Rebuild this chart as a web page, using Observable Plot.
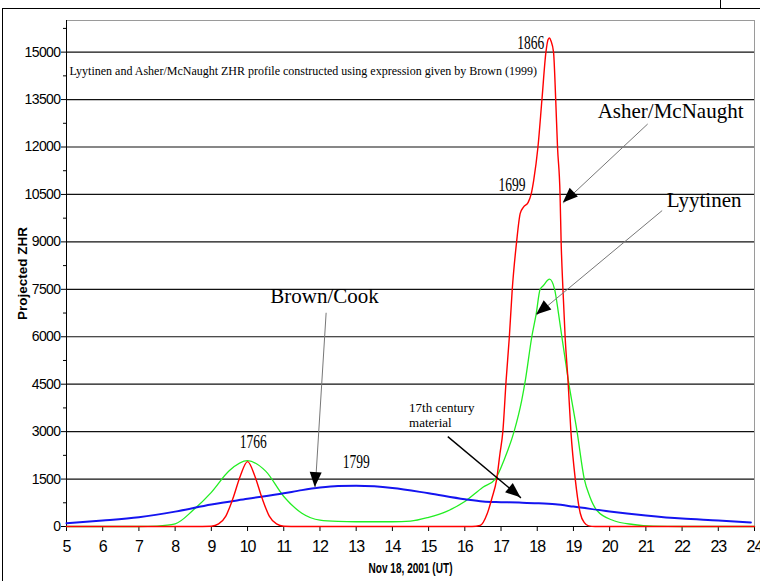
<!DOCTYPE html>
<html><head><meta charset="utf-8">
<script src="https://cdn.jsdelivr.net/npm/d3@7"></script>
<script src="https://cdn.jsdelivr.net/npm/@observablehq/plot@0.6"></script>
<style>
html,body{margin:0;padding:0;background:#fff;}
#wrap{position:relative;width:760px;height:581px;overflow:hidden;}
#chart{position:absolute;left:0;top:0;}
.bt{position:absolute;left:2px;top:8px;width:758px;height:0;border-top:1px solid #000;}
.bl{position:absolute;left:2px;top:8px;width:0;height:573px;border-left:1px solid #000;}
.bv{position:absolute;left:720px;top:0;width:0;height:8px;border-left:1px solid #000;}
#chart svg [aria-label="y-axis tick label"] text{font-family:"Liberation Sans Narrow","Arial Narrow","Liberation Sans",sans-serif;font-size:14px;letter-spacing:-0.6px;}
#chart svg [aria-label="x-axis tick label"] text{font-family:"Liberation Sans",Arial,sans-serif;font-size:16px;letter-spacing:-1px;}
</style></head><body>
<div id="wrap"><div id="chart"></div><div class="bt"></div><div class="bl"></div><div class="bv"></div></div>
<script>
// ---- Data ----
const brownDay = [5, 6, 7, 8, 9, 10, 11, 11.5, 12, 12.5, 13, 13.5, 14, 15, 16, 16.5, 17, 17.5, 18, 18.5, 19, 20, 21, 22, 23, 23.9];
const brownZHR = [105, 190, 295, 470, 695, 875, 1050, 1150, 1230, 1280, 1290, 1270, 1220, 1050, 860, 790, 770, 755, 735, 700, 630, 475, 350, 250, 190, 125];

const lyytinenDay = [5, 7, 7.5, 8, 8.5, 9, 9.5, 10, 10.5, 11, 11.5, 12, 12.5, 13, 14, 14.5, 15, 15.5, 16, 16.5, 16.84, 17.1, 17.36, 17.57, 17.67, 17.85, 17.97, 18.08, 18.17, 18.34, 18.48, 18.59, 18.68, 18.86, 19.1, 19.3, 19.45, 19.65, 20.1, 20.65, 21.2, 22, 24];
const lyytinenZHR = [0, 0, 15, 85, 520, 1080, 1770, 2080, 1750, 950, 420, 200, 160, 150, 150, 170, 290, 480, 790, 1240, 1500, 2150, 3000, 3980, 4610, 6000, 6716, 7500, 7620, 7820, 7500, 6716, 6000, 4610, 3000, 1500, 950, 505, 190, 63, 10, 0, 0];

const asherDay = [5, 8.5, 9, 9.2, 9.4, 9.6, 9.8, 10, 10.2, 10.4, 10.6, 10.8, 11, 11.4, 16.2, 16.42, 16.62, 16.75, 16.88, 16.97, 17.05, 17.14, 17.23, 17.31, 17.43, 17.53, 17.62, 17.75, 17.83, 17.9, 18.02, 18.13, 18.24, 18.3, 18.34, 18.38, 18.45, 18.51, 18.56, 18.63, 18.66, 18.71, 18.77, 18.85, 18.93, 19.05, 19.19, 19.3, 19.42, 19.6, 24];
const asherZHR = [0, 0, 10, 80, 330, 900, 1600, 2050, 1600, 900, 330, 80, 10, 0, 0, 30, 410, 900, 1500, 2300, 3000, 4610, 6000, 7500, 9000, 9900, 10100, 10250, 10500, 10930, 12000, 13500, 15000, 15400, 15450, 15350, 15000, 13500, 12000, 10500, 9000, 7500, 6000, 4610, 3000, 1500, 410, 120, 20, 0, 0];

const xTicks = [5, 6, 7, 8, 9, 10, 11, 12, 13, 14, 15, 16, 17, 18, 19, 20, 21, 22, 23, 24];
const yTicks = [0, 1500, 3000, 4500, 6000, 7500, 9000, 10500, 12000, 13500, 15000];
const yMinor = [750, 2250, 3750, 5250, 6750, 8250, 9750, 11250, 12750, 14250, 15750];

const titleText = ["Lyytinen and Asher/McNaught ZHR profile constructed using expression given by Brown (1999)"];
const xLabel = "Nov 18, 2001 (UT)";
const yLabel = "Projected ZHR";
const bigLabels = [
  {t: "Asher/McNaught", x: 19.67, y: 13137},
  {t: "Lyytinen", x: 21.58, y: 10330},
  {t: "Brown/Cook", x: 10.63, y: 7280}
];
const yearLabels = [
  {t: "1866", x: 17.82, y: 15285},
  {t: "1699", x: 17.30, y: 10800},
  {t: "1766", x: 10.16, y: 2668},
  {t: "1799", x: 13.00, y: 2021}
];
const noteLabels = [
  {t: "17th century", x: 14.46, y: 3768},
  {t: "material", x: 14.46, y: 3284}
];
const greyArrows = [
  {x1: 21.05, y1: 12727, x2: 18.72, y2: 10230},
  {x1: 21.45, y1: 9990, x2: 17.98, y2: 6686},
  {x1: 12.17, y1: 6758, x2: 11.87, y2: 1232}
];
const blackArrows = [
  {x1: 15.53, y1: 2842, x2: 17.55, y2: 906}
];

// ---- Arrowheads drawn through the plot's scales ----
function arrowHeads(list) {
  return (index, scales) => {
    const g = d3.create("svg:g").attr("fill", "#000");
    for (const a of list) {
      const x1 = scales.x(a.x1), y1 = scales.y(a.y1), x2 = scales.x(a.x2), y2 = scales.y(a.y2);
      const ang = Math.atan2(y2 - y1, x2 - x1);
      const L = 15, W = 6;
      const bx = x2 - L * Math.cos(ang), by = y2 - L * Math.sin(ang);
      const px = -Math.sin(ang) * W, py = Math.cos(ang) * W;
      g.append("path").attr("d", `M${x2},${y2}L${bx + px},${by + py}L${bx - px},${by - py}Z`);
    }
    return g.node();
  };
}

const serif = "Liberation Serif, Times New Roman, serif";
const yearSet = new Set(yearLabels.map(d => d.t));

const chart = Plot.plot({
  width: 760,
  height: 581,
  marginLeft: 66,
  marginRight: 6,
  marginTop: 20,
  marginBottom: 55,
  x: {domain: [5, 24]},
  y: {domain: [0, 16000]},
  style: {background: "transparent", fontFamily: "Liberation Sans, Arial, sans-serif", color: "#000", overflow: "visible"},
  marks: [
    Plot.frame({stroke: "#9a9a9a"}),
    Plot.ruleY(yTicks.filter(v => v > 0), {stroke: "#111", strokeWidth: 1.2}),
    Plot.ruleX([5], {stroke: "#000"}),
    Plot.ruleY([0], {stroke: "#000"}),
    Plot.axisY({ticks: yTicks, tickSize: 5, tickPadding: 1, label: null, tickFormat: d => String(d)}),
    Plot.axisY({ticks: yMinor, tickSize: 3, label: null, tickFormat: () => ""}),
    Plot.axisX({ticks: xTicks, tickSize: 5, tickPadding: 9, label: null, tickFormat: d => String(d)}),
    Plot.text([yLabel], {frameAnchor: "left", textAnchor: "middle", dx: -44, rotate: -90, fontWeight: "bold", fontSize: 13.5, fill: "#000"}),
    Plot.text([xLabel], {frameAnchor: "bottom", dy: 46, fontWeight: "bold", fontSize: 14, fill: "#000"}),
    Plot.line(lyytinenZHR, {x: lyytinenDay, y: lyytinenZHR, stroke: "#22ee22", strokeWidth: 1.3, curve: "monotone-x"}),
    Plot.line(brownZHR, {x: brownDay, y: brownZHR, stroke: "#1414f0", strokeWidth: 2, curve: "monotone-x"}),
    Plot.line(asherZHR, {x: asherDay, y: asherZHR, stroke: "#ff0000", strokeWidth: 1.4, curve: "monotone-x"}),
    Plot.text(titleText, {x: () => 5.08, y: () => 14400, textAnchor: "start", fontFamily: serif, fontSize: 12, fill: "#000"}),
    Plot.text(bigLabels, {x: "x", y: "y", text: "t", textAnchor: "start", fontFamily: serif, fontSize: 21, fill: "#000"}),
    Plot.text(yearLabels, {x: "x", y: "y", text: "t", textAnchor: "middle", fontFamily: serif, fontSize: 18, fill: "#000"}),
    Plot.text(noteLabels, {x: "x", y: "y", text: "t", textAnchor: "start", fontFamily: serif, fontSize: 13, fill: "#000"}),
    Plot.link(greyArrows, {x1: "x1", y1: "y1", x2: "x2", y2: "y2", stroke: "#777", strokeWidth: 1}),
    Plot.link(blackArrows, {x1: "x1", y1: "y1", x2: "x2", y2: "y2", stroke: "#000", strokeWidth: 1.4}),
    arrowHeads(greyArrows.concat(blackArrows))
  ]
});
// condensed glyphs, as in the reference
chart.querySelectorAll("text").forEach(t => {
  if (yearSet.has(t.textContent)) { t.setAttribute("textLength", "27"); t.setAttribute("lengthAdjust", "spacingAndGlyphs"); }
  if (t.textContent === xLabel) { t.setAttribute("textLength", "84"); t.setAttribute("lengthAdjust", "spacingAndGlyphs"); }
});
document.getElementById("chart").appendChild(chart);
</script>
</body></html>
